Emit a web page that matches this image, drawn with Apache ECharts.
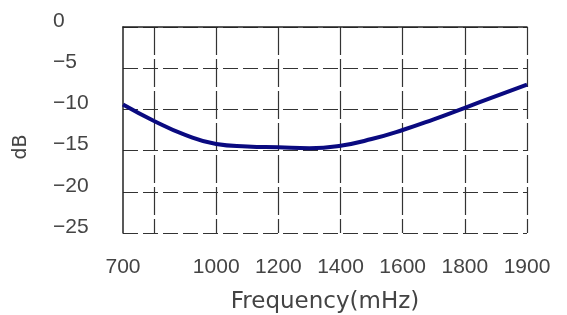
<!DOCTYPE html>
<html>
<head>
<meta charset="utf-8">
<script src="https://cdn.jsdelivr.net/npm/echarts@6/dist/echarts.min.js"></script>
<style>
  html, body { margin: 0; padding: 0; background: #fff; }
  #chart { width: 567px; height: 315px; }
</style>
</head>
<body>
<div id="chart"></div>
<script>
// x positions are in axis units; the last step is labelled 1900 on the original
var freqs = [700, 800, 900, 1000, 1100, 1200, 1300, 1400, 1500, 1600, 1700, 1800, 1900, 2000];
var gain = [-9.4, -11.4, -13.1, -14.2, -14.5, -14.6, -14.7, -14.4, -13.6, -12.5, -11.2, -9.8, -8.4, -7.0];
var xTickValues = [700, 1000, 1200, 1400, 1600, 1800, 2000];
var xTickLabels = ['700', '1000', '1200', '1400', '1600', '1800', '1900'];

var chartDom = document.getElementById('chart');
var myChart = echarts.init(chartDom);

var points = freqs.map(function (f, i) { return [f, gain[i]]; });

var option = {
    animation: false,
    grid: { left: 123, top: 27, right: 40, bottom: 82, outerBoundsMode: 'none', containLabel: false },
    xAxis: {
        type: 'value',
        min: 700,
        max: 2000,
        interval: 100,
        name: 'Frequency(mHz)',
        nameLocation: 'middle',
        nameGap: 58,
        nameTextStyle: { fontFamily: 'DejaVu Sans', fontSize: 23, color: '#444' },
        axisLine: { show: true, lineStyle: { color: '#222', width: 1.5 } },
        axisTick: { show: false },
        axisLabel: {
            margin: 24,
            fontFamily: 'Liberation Sans',
            fontSize: 21,
            color: '#444',
            formatter: function (v) {
                var i = xTickValues.indexOf(v);
                return i >= 0 ? xTickLabels[i] : '';
            }
        },
        splitLine: {
            show: true,
            lineStyle: { color: ['rgba(0,0,0,0)', '#333'], width: 1.2, type: [28, 4] }
        }
    },
    yAxis: {
        type: 'value',
        min: -25,
        max: 0,
        interval: 5,
        name: 'dB',
        nameLocation: 'middle',
        nameGap: 92,
        nameRotate: 90,
        nameTextStyle: { fontFamily: 'DejaVu Sans', fontSize: 19, color: '#444', padding: [0, 34, 0, 0] },
        axisLine: { show: true, lineStyle: { color: '#222', width: 1.5 } },
        axisTick: { show: false },
        axisLabel: {
            margin: 70,
            align: 'left',
            verticalAlign: 'bottom',
            lineHeight: 12,
            fontFamily: 'Liberation Sans',
            fontSize: 21,
            color: '#444',
            formatter: function (v) { return String(v).replace('-', '\u2212'); }
        },
        splitLine: {
            show: true,
            lineStyle: { color: '#333', width: 1.2, type: [15, 5] }
        }
    },
    series: [
        {
            type: 'line',
            data: points,
            smooth: true,
            showSymbol: false,
            lineStyle: { color: '#0a0a80', width: 4 }
        }
    ]
};

myChart.setOption(option);
</script>
</body>
</html>
